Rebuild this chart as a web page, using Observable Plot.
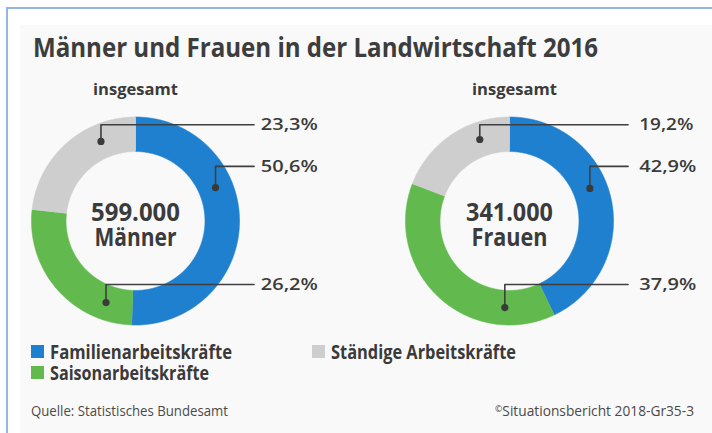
<!DOCTYPE html>
<html lang="de"><head><meta charset="utf-8">
<script src="https://cdn.jsdelivr.net/npm/d3@7"></script>
<script src="https://cdn.jsdelivr.net/npm/@observablehq/plot@0.6"></script>
<style>
html,body{margin:0;padding:0;background:#fff}
body{position:relative;width:712px;height:433px;overflow:hidden;font-family:"Open Sans","Noto Sans","DejaVu Sans",sans-serif;color:#3b3b3b}
#frame{position:absolute;left:6px;top:7px;width:800px;height:600px;border-top:2px solid #93b7e3;border-left:2px solid #93b7e3;box-sizing:border-box}
#panel{position:absolute;left:20px;top:25px;width:700px;height:420px;background:#f9f9f9}
.txt{position:absolute;white-space:nowrap;line-height:normal;transform-origin:0 0}
#title{font-size:26.5px;font-weight:700;color:#3d3d3d}
.foot{font-size:14px;font-weight:400;color:#4a4a4a}
.chart{position:absolute;top:72px}
.lg-swatches{position:absolute;left:31px;top:340px;width:562px;margin:0;column-gap:0;font-family:"Open Sans","Noto Sans",sans-serif;font-size:20px;font-weight:700;line-height:21px;color:#3a3a3a}
.lg-swatch{padding-bottom:0 !important;height:21px}
.lg-swatch > svg{margin-right:6px}
.lg-swatch-label{overflow:visible !important;text-overflow:clip !important;transform-origin:0 50%}
</style></head><body>
<div id="frame"></div><div id="panel"></div>
<script>
// ---------- data ----------
const categories = ["Familienarbeitskräfte", "Saisonarbeitskräfte", "Ständige Arbeitskräfte"];
const groups = ["Männer", "Frauen"];
const totals = [599000, 341000];
const sharesMaenner = [50.6, 26.2, 23.3];
const sharesFrauen = [42.9, 37.9, 19.2];
const headLabel = "insgesamt";
const titleText = "Männer und Frauen in der Landwirtschaft 2016";
const sourceText = "Quelle: Statistisches Bundesamt";
const creditText = "Situationsbericht 2018-Gr35-3";

// ---------- style / layout ----------
const colors = ["#1f80cf", "#62b94e", "#cecece"];
const FONT = '"Open Sans","Noto Sans",sans-serif';
const INK = "#3b3b3b";
const PX = 104, W = 320, H = 265, CX = 125, CY = 148.5;
const R_OUT = 1, R_IN = 0.668, R_DOT = (R_OUT + R_IN) / 2;
const labelLineY = [0.525, -0.61, 0.925];
const lineEndX = 1.14;
const HEAD_Y = 1.207, NAME_Y = -0.236;
const layouts = [
  {left: 10, labelX: 1.205, headX: 0, anchors: [0.37, 0.19, 0.72]},
  {left: 383.5, labelX: 1.248, headX: 0.048, anchors: [0.44, 0.21, 0.71]}
];
const textWidths = {
  "insgesamt": 85, "599.000": 89, "Männer": 82, "341.000": 87, "Frauen": 76,
  "23,3%": 57, "50,6%": 57, "26,2%": 57, "19,2%": 54, "42,9%": 57, "37,9%": 57
};

const de = d3.formatLocale({decimal: ",", thousands: ".", grouping: [3], currency: ["", "\u00a0€"]});
const fmtPct = v => de.format(".1f")(v) + "%";
const fmtTotal = de.format(",d");

function placeText(el, left, baseline, width) {
  const probe = document.createElement("span");
  probe.style.cssText = "display:inline-block;width:0;height:0;vertical-align:baseline";
  el.appendChild(probe);
  el.style.left = left + "px"; el.style.top = "0px"; el.style.transform = "none";
  const r = el.getBoundingClientRect(), p = probe.getBoundingClientRect();
  el.style.top = (baseline - (p.bottom - r.top)) + "px";
  if (width) el.style.transform = `scaleX(${width / r.width})`;
}

// title
const title = document.createElement("div");
title.id = "title"; title.className = "txt"; title.textContent = titleText;
document.body.appendChild(title);
placeText(title, 32.7, 57, 565);

// donuts
groups.forEach((g, gi) => {
  const L = layouts[gi];
  const values = gi === 0 ? sharesMaenner : sharesFrauen;
  const rows = categories.map((c, i) => ({cat: c, value: values[i]}));
  const arcs = d3.pie().sort(null).value(d => d.value)(rows);
  const ring = [], dots = [], leaders = [], labels = [];
  arcs.forEach((a, i) => {
    const n = Math.max(2, Math.ceil((a.endAngle - a.startAngle) / (Math.PI / 360)));
    for (let k = 0; k <= n; k++) {
      const t = a.startAngle + (a.endAngle - a.startAngle) * k / n;
      ring.push({cat: a.data.cat, x: R_OUT * Math.sin(t), y: R_OUT * Math.cos(t)});
    }
    for (let k = n; k >= 0; k--) {
      const t = a.startAngle + (a.endAngle - a.startAngle) * k / n;
      ring.push({cat: a.data.cat, x: R_IN * Math.sin(t), y: R_IN * Math.cos(t)});
    }
    const t = a.startAngle + (a.endAngle - a.startAngle) * L.anchors[i];
    const dx = R_DOT * Math.sin(t), dy = R_DOT * Math.cos(t);
    dots.push({x: dx, y: dy});
    leaders.push({id: i, x: dx, y: dy}, {id: i, x: dx, y: labelLineY[i]}, {id: i, x: lineEndX, y: labelLineY[i]});
    labels.push({x: L.labelX, y: labelLineY[i], text: fmtPct(a.data.value)});
  });
  const svg = Plot.plot({
    width: W, height: H, margin: 0,
    x: {domain: [-CX / PX, (W - CX) / PX], axis: null},
    y: {domain: [-(H - CY) / PX, CY / PX], axis: null},
    color: {type: "ordinal", domain: categories, range: colors},
    style: {background: "transparent", overflow: "visible"},
    marks: [
      Plot.line(ring, {x: "x", y: "y", z: "cat", fill: "cat", stroke: "cat", strokeWidth: 0.6, curve: "linear"}),
      Plot.line(leaders, {x: "x", y: "y", z: "id", stroke: "#3f3f3f", strokeWidth: 1.6, curve: "linear"}),
      Plot.dot(dots, {x: "x", y: "y", r: 3.6, fill: "#3a3a3a"}),
      Plot.text(labels, {x: "x", y: "y", text: "text", textAnchor: "start", lineAnchor: "middle", fontSize: 17, fontWeight: 600, fill: INK, fontFamily: FONT}),
      Plot.text([{x: L.headX, y: HEAD_Y, text: headLabel}], {x: "x", y: "y", text: "text", lineAnchor: "bottom", fontSize: 16.5, fontWeight: 700, fill: INK, fontFamily: FONT}),
      Plot.text([{x: 0, y: 0, text: fmtTotal(totals[gi])}], {x: "x", y: "y", text: "text", lineAnchor: "bottom", fontSize: 25, fontWeight: 700, fill: INK, fontFamily: FONT}),
      Plot.text([{x: 0, y: NAME_Y, text: g}], {x: "x", y: "y", text: "text", lineAnchor: "bottom", fontSize: 25, fontWeight: 700, fill: INK, fontFamily: FONT})
    ]
  });
  svg.classList.add("chart");
  svg.style.left = L.left + "px";
  document.body.appendChild(svg);
  svg.querySelectorAll("text").forEach(t => {
    const w = textWidths[t.textContent.trim()];
    if (w) { t.setAttribute("textLength", w); t.setAttribute("lengthAdjust", "spacingAndGlyphs"); }
  });
});

// legend
const legend = Plot.legend({
  color: {type: "ordinal", domain: categories, range: colors},
  columns: 2, swatchSize: 13, className: "lg"
});
document.body.appendChild(legend);
const legendTargets = [182, 159, 185];
const labelsEl = legend.querySelectorAll(".lg-swatch-label");
let baseOff = null;
labelsEl.forEach((lab, i) => {
  const probe = document.createElement("span");
  probe.style.cssText = "display:inline-block;width:0;height:0;vertical-align:baseline";
  lab.appendChild(probe);
  const range = document.createRange(); range.selectNodeContents(lab);
  const w = range.getBoundingClientRect().width;
  if (i === 0) baseOff = probe.getBoundingClientRect().bottom - legend.getBoundingClientRect().top;
  lab.style.transform = `scaleX(${legendTargets[i] / w})`;
  lab.style.transformOrigin = "0 50%";
});
if (baseOff != null) legend.style.top = (359.3 - baseOff) + "px";

// footer
const src = document.createElement("div");
src.className = "txt foot"; src.textContent = sourceText;
document.body.appendChild(src);
placeText(src, 31, 416, 197);
const cr = document.createElement("div");
cr.className = "txt foot";
cr.innerHTML = '<span style="font-size:9px;vertical-align:4px">©</span>' + creditText;
document.body.appendChild(cr);
placeText(cr, 495, 416, 199);
</script></body></html>
